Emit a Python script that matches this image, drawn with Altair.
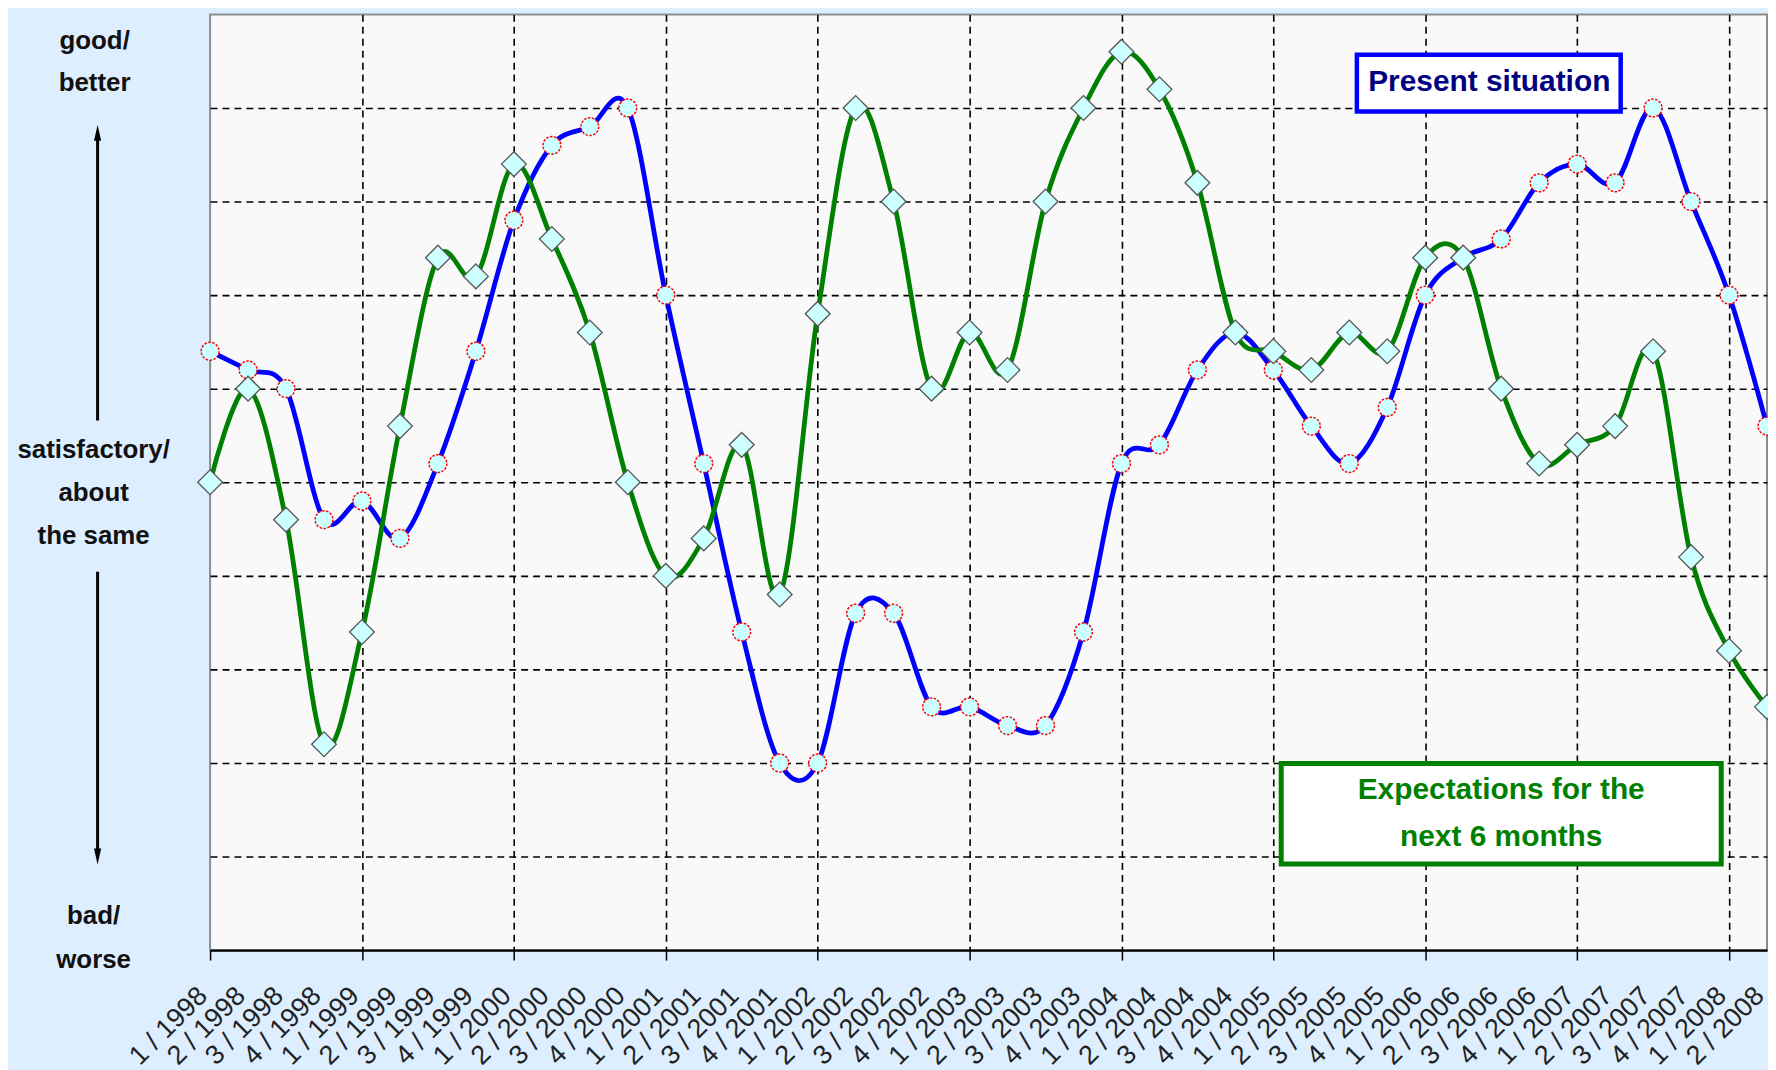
import altair as alt
import pandas as pd

# ---------------- data ----------------
quarters = [f"{q} / {y}" for y in range(1998, 2009) for q in (1, 2, 3, 4)][:42]

present = [6.4, 6.2, 6.0, 4.6, 4.8, 4.4, 5.2, 6.4, 7.8, 8.6, 8.8, 9.0,
           7.0, 5.2, 3.4, 2.0, 2.0, 3.6, 3.6, 2.6, 2.6, 2.4, 2.4, 3.4,
           5.2, 5.4, 6.2, 6.6, 6.2, 5.6, 5.2, 5.8, 7.0, 7.4, 7.6, 8.2,
           8.4, 8.2, 9.0, 8.0, 7.0, 5.6]

expect = [5.0, 6.0, 4.6, 2.2, 3.4, 5.6, 7.4, 7.2, 8.4, 7.6, 6.6, 5.0,
          4.0, 4.4, 5.4, 3.8, 6.8, 9.0, 8.0, 6.0, 6.6, 6.2, 8.0, 9.0,
          9.6, 9.2, 8.2, 6.6, 6.4, 6.2, 6.6, 6.4, 7.4, 7.4, 6.0, 5.2,
          5.4, 5.6, 6.4, 4.2, 3.2, 2.6]

idx = list(range(len(quarters)))
labels_df = pd.DataFrame({"q": idx, "label": quarters})
long_df = pd.concat([
    pd.DataFrame({"q": idx, "value": present, "series": "Present situation"}),
    pd.DataFrame({"q": idx, "value": expect, "series": "Expectations for the next 6 months"}),
], ignore_index=True)

# ---------------- layout ----------------
W, H = 1564, 940
xscale = alt.Scale(domain=[0, 41], nice=False, zero=False)
yscale = alt.Scale(domain=[0, 10], nice=False, zero=False)

FONT = "Liberation Sans"
BG = "#DDEEFF"

grid_x_axis = alt.Axis(values=list(range(4, 41, 4)), grid=True, gridColor="#000000",
                       gridDash=[7, 5], gridWidth=1.6, ticks=False, labels=False,
                       domain=False, title=None, orient="bottom")
tick_x_axis = alt.Axis(values=list(range(0, 41, 4)), grid=False, ticks=True, tickSize=10,
                       tickColor="#000000", tickWidth=1.5, labels=False, domain=True,
                       domainColor="#000000", domainWidth=2.5, title=None, orient="bottom")
y_axis = alt.Axis(values=list(range(1, 10)), grid=True, gridColor="#000000",
                  gridDash=[7, 5], gridWidth=1.6, ticks=False, labels=False,
                  domain=False, title=None)

base = alt.Chart(long_df)
pres = base.transform_filter(alt.datum.series == "Present situation")
expc = base.transform_filter(alt.datum.series == "Expectations for the next 6 months")

blue_line = pres.mark_line(interpolate="cardinal", color="#0000FF", strokeWidth=4.8).encode(
    x=alt.X("q:Q", scale=xscale, axis=grid_x_axis),
    y=alt.Y("value:Q", scale=yscale, axis=y_axis),
)
blue_pts = pres.mark_point(shape="circle", filled=True, fill="#CCFFFF", stroke="#FF0000",
                           strokeWidth=1.5, strokeDash=[2.5, 1.5], size=320, opacity=1).encode(
    x=alt.X("q:Q", scale=xscale, axis=tick_x_axis),
    y=alt.Y("value:Q", scale=yscale, axis=y_axis),
)
green_line = expc.mark_line(interpolate="cardinal", color="#008000", strokeWidth=4.8).encode(
    x=alt.X("q:Q", scale=xscale, axis=None),
    y=alt.Y("value:Q", scale=yscale, axis=y_axis),
)
green_pts = expc.mark_point(shape="diamond", filled=True, fill="#CCFFFF", stroke="#555555",
                            strokeWidth=1.3, size=620, opacity=1).encode(
    x=alt.X("q:Q", scale=xscale, axis=None),
    y=alt.Y("value:Q", scale=yscale, axis=y_axis),
)

xlabels = alt.Chart(labels_df).mark_text(
    angle=315, align="right", baseline="middle", fontSize=27, font=FONT,
    color="#222222", dx=-2.8, dy=-7.1,
).encode(
    x=alt.X("q:Q", scale=xscale, axis=None),
    y=alt.value(985),
    text="label:N",
)

one = pd.DataFrame({"k": [0]})


def txt(lines, x, y, size, color, lh):
    return alt.Chart(one).mark_text(
        text=lines, fontSize=size, fontWeight="bold", font=FONT, color=color,
        align="center", baseline="middle", lineHeight=lh,
    ).encode(x=alt.value(x), y=alt.value(y))


left_good = txt(["good/", "better"], -116, 27, 26, "#111111", 42)
left_mid = txt(["satisfactory/", "about", "the same"], -117, 438, 26, "#111111", 43)
left_bad = txt(["bad/", "worse"], -117, 906, 26, "#111111", 44)

arrow_up = alt.Chart(one).mark_rule(color="#000000", strokeWidth=3).encode(
    x=alt.value(-113), y=alt.value(122), y2=alt.value(408))
arrow_dn = alt.Chart(one).mark_rule(color="#000000", strokeWidth=3).encode(
    x=alt.value(-113), y=alt.value(560), y2=alt.value(843))
head_up = alt.Chart(one).mark_point(shape="M0,-1L0.45,1L-0.45,1Z", filled=True,
                                    color="#000000", size=256, opacity=1).encode(
    x=alt.value(-113), y=alt.value(119))
head_dn = alt.Chart(one).mark_point(shape="M0,1L0.45,-1L-0.45,-1Z", filled=True,
                                    color="#000000", size=256, opacity=1).encode(
    x=alt.value(-113), y=alt.value(846))

box_present = alt.Chart(one).mark_rect(fill="#FFFFFF", stroke="#0000FF", strokeWidth=4.5).encode(
    x=alt.value(1152), x2=alt.value(1417), y=alt.value(40.5), y2=alt.value(97.5))
text_present = txt("Present situation", 1285, 68, 30, "#000080", 36)

box_expect = alt.Chart(one).mark_rect(fill="#FFFFFF", stroke="#008000", strokeWidth=5).encode(
    x=alt.value(1076), x2=alt.value(1518), y=alt.value(752.5), y2=alt.value(853.5))
text_expect = txt(["Expectations for the", "next 6 months"], 1297, 779, 30, "#008000", 47)

chart = alt.layer(
    blue_line, blue_pts, green_line, green_pts, xlabels,
    left_good, left_mid, left_bad, arrow_up, arrow_dn, head_up, head_dn,
    box_present, text_present, box_expect, text_expect,
).resolve_axis(x="independent").properties(
    width=W, height=H,
    autosize=alt.AutoSizeParams(type="none"),
    padding={"left": 203, "top": 4, "right": 1, "bottom": 118},
    background=BG,
).configure_view(
    fill="#F9F9F9", stroke="#8C8C8C", strokeWidth=2,
)

chart.save("out.html", embed_options={"renderer": "svg", "actions": False})
